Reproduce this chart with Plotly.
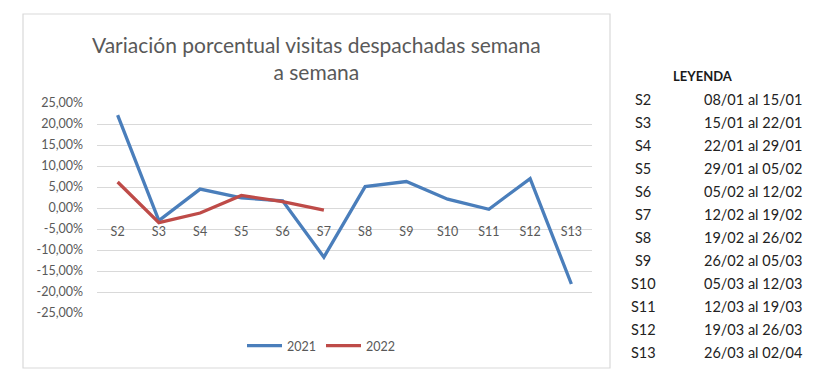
import plotly.graph_objects as go

weeks = ["S2", "S3", "S4", "S5", "S6", "S7", "S8", "S9", "S10", "S11", "S12", "S13"]
var_2021 = [22.1, -3.0, 4.5, 2.4, 1.7, -11.7, 5.1, 6.3, 2.1, -0.3, 7.0, -18.1]
weeks_2022 = ["S2", "S3", "S4", "S5", "S6", "S7"]
var_2022 = [6.2, -3.5, -1.2, 3.0, 1.5, -0.5]
y_ticks = [25, 20, 15, 10, 5, 0, -5, -10, -15, -20, -25]
y_tick_labels = ["25,00%", "20,00%", "15,00%", "10,00%", "5,00%", "0,00%",
                 "-5,00%", "-10,00%", "-15,00%", "-20,00%", "-25,00%"]
legend_weeks = weeks
legend_dates = ["08/01 al 15/01", "15/01 al 22/01", "22/01 al 29/01", "29/01 al 05/02",
                "05/02 al 12/02", "12/02 al 19/02", "19/02 al 26/02", "26/02 al 05/03",
                "05/03 al 12/03", "12/03 al 19/03", "19/03 al 26/03", "26/03 al 02/04"]

OFF = 8  # default page body margin
W, H = 832 - OFF, 389 - OFF
PL, PR, PT, PB = 97 - OFF, 592 - OFF, 103 - OFF, 313 - OFF
FONT = "Lato, 'Open Sans', sans-serif"
GRAY = "#595959"


def px(x):
    return (x - OFF - PL) / (PR - PL)


def py(y):
    return (PB - (y - OFF)) / (PB - PT)


fig = go.Figure()
fig.add_trace(go.Scatter(x=weeks, y=var_2021, mode="lines", name="2021",
                         line=dict(color="#4A7EBB", width=3.3)))
fig.add_trace(go.Scatter(x=weeks_2022, y=var_2022, mode="lines", name="2022",
                         line=dict(color="#BE4B48", width=3.3)))

shapes = [dict(type="rect", xref="paper", yref="paper",
               x0=px(23), x1=px(610), y0=py(368), y1=py(14),
               line=dict(color="#D9D9D9", width=1.2), fillcolor="rgba(0,0,0,0)", layer="below")]

annotations = [dict(text="Variación porcentual visitas despachadas semana<br>a semana",
                    xref="paper", yref="paper", x=px(316), y=py(58), xanchor="center", yanchor="middle",
                    showarrow=False, font=dict(family=FONT, size=21, color=GRAY))]

annotations.append(dict(text="<b>LEYENDA</b>", xref="paper", yref="paper", x=px(703), y=py(76),
                        xanchor="center", yanchor="middle", showarrow=False,
                        font=dict(family=FONT, size=13, color="#1a1a1a")))
for i, (w, d) in enumerate(zip(legend_weeks, legend_dates)):
    yy = 99 + i * 23.0
    annotations.append(dict(text=w, xref="paper", yref="paper", x=px(643), y=py(yy),
                            xanchor="center", yanchor="middle", showarrow=False,
                            font=dict(family=FONT, size=14.5, color="#222222")))
    annotations.append(dict(text=d, xref="paper", yref="paper", x=px(804), y=py(yy),
                            xanchor="right", yanchor="middle", showarrow=False,
                            font=dict(family=FONT, size=14.5, color="#222222")))

fig.update_layout(
    width=W, height=H,
    margin=dict(l=PL, r=W - PR, t=PT, b=H - PB, pad=0),
    paper_bgcolor="white", plot_bgcolor="white",
    showlegend=True,
    legend=dict(orientation="h", x=px(321), y=py(346), xanchor="center", yanchor="middle",
                font=dict(family=FONT, size=12.5, color=GRAY), itemwidth=35),
    xaxis=dict(type="category", categoryorder="array", categoryarray=weeks,
               anchor="free", position=0.5, showgrid=False, showline=False, zeroline=False,
               ticks="", ticklabelstandoff=14,
               tickfont=dict(family=FONT, size=12.5, color=GRAY), range=[-0.5, 11.5]),
    yaxis=dict(range=[-25, 25], tickvals=y_ticks, ticktext=y_tick_labels,
               showgrid=True, gridcolor="#D9D9D9", gridwidth=1, zeroline=True,
               zerolinecolor="#D9D9D9", zerolinewidth=1, showline=False, ticks="",
               ticklabelstandoff=13,
               tickfont=dict(family=FONT, size=12.5, color=GRAY)),
    shapes=shapes, annotations=annotations,
)

fig.write_html("out.html")
